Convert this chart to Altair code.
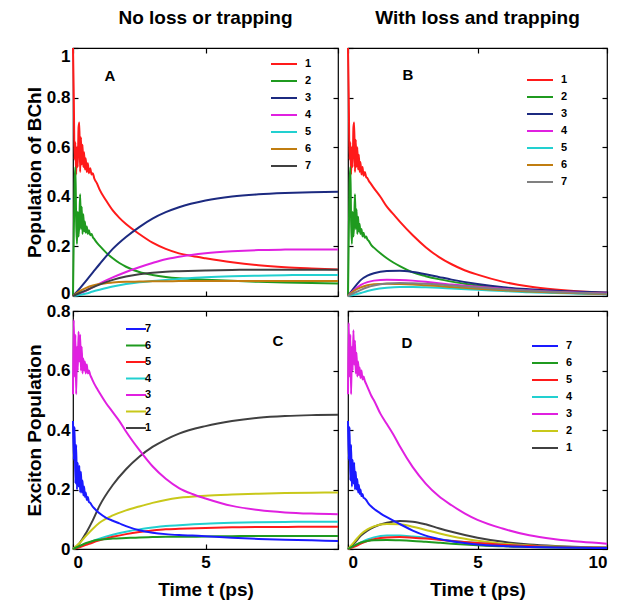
import altair as alt
import pandas as pd

FONT = "Liberation Sans"

# time grids (ps)
T_OSC = [0, 0.03, 0.06, 0.09, 0.12, 0.15, 0.18, 0.21, 0.24, 0.27,
         0.30, 0.33, 0.36, 0.39, 0.42, 0.45, 0.48, 0.52, 0.56, 0.60,
         0.65, 0.70, 0.75, 0.8, 0.9, 1.0, 1.25, 1.5, 1.75, 2.0,
         2.5, 3.0, 3.5, 4.0, 4.5, 5.0, 6.0, 7.0, 8.0, 9.0, 10.0]
T_S = [0, 0.25, 0.5, 0.75, 1, 1.5, 2, 2.5, 3, 3.5, 4, 5, 6, 7, 8, 9, 10]

SERIES = ["1", "2", "3", "4", "5", "6", "7"]
SERIES_REV = ["7", "6", "5", "4", "3", "2", "1"]

# Panel A: site populations, no loss or trapping
A1 = [1.0, 0.8, 0.55, 0.62, 0.49, 0.60, 0.52, 0.68, 0.70, 0.50,
      0.64, 0.53, 0.61, 0.52, 0.58, 0.51, 0.555, 0.50, 0.535, 0.495,
      0.515, 0.49, 0.495, 0.475, 0.455, 0.43, 0.385, 0.345, 0.315, 0.29,
      0.25, 0.215, 0.19, 0.172, 0.161, 0.152, 0.136, 0.124, 0.116, 0.111, 0.107]
A2 = [0, 0.25, 0.45, 0.52, 0.30, 0.21, 0.34, 0.24, 0.30, 0.41,
      0.27, 0.36, 0.25, 0.33, 0.26, 0.30, 0.255, 0.28, 0.25, 0.265,
      0.245, 0.25, 0.237, 0.23, 0.215, 0.203, 0.175, 0.152, 0.133, 0.118,
      0.097, 0.085, 0.077, 0.072, 0.069, 0.066, 0.061, 0.057, 0.054, 0.052, 0.05]
A3 = [0, 0.03, 0.062, 0.095, 0.128, 0.19, 0.238, 0.278, 0.312, 0.338, 0.358, 0.385, 0.401, 0.41, 0.415, 0.418, 0.42]
A4 = [0, 0.01, 0.022, 0.036, 0.05, 0.075, 0.097, 0.116, 0.133, 0.148, 0.158, 0.172, 0.18, 0.185, 0.187, 0.188, 0.188]
A5 = [0, 0.004, 0.01, 0.018, 0.025, 0.038, 0.048, 0.055, 0.06, 0.065, 0.069, 0.076, 0.08, 0.082, 0.084, 0.085, 0.085]
A6 = [0, 0.02, 0.033, 0.042, 0.048, 0.054, 0.057, 0.058, 0.059, 0.059, 0.06, 0.06, 0.06, 0.06, 0.06, 0.06, 0.06]
A7 = [0, 0.012, 0.023, 0.035, 0.046, 0.065, 0.079, 0.088, 0.094, 0.098, 0.1, 0.103, 0.105, 0.106, 0.106, 0.106, 0.106]

# Panel B: site populations, with loss and trapping
B1 = [1.0, 0.8, 0.55, 0.62, 0.49, 0.60, 0.52, 0.68, 0.70, 0.50,
      0.63, 0.52, 0.60, 0.51, 0.57, 0.50, 0.54, 0.49, 0.52, 0.485,
      0.50, 0.48, 0.475, 0.465, 0.45, 0.435, 0.40, 0.36, 0.33, 0.30,
      0.245, 0.197, 0.158, 0.128, 0.104, 0.086, 0.057, 0.038, 0.026, 0.018, 0.013]
B2 = [0, 0.25, 0.45, 0.52, 0.30, 0.21, 0.34, 0.24, 0.30, 0.41,
      0.27, 0.35, 0.25, 0.32, 0.26, 0.29, 0.25, 0.27, 0.24, 0.255,
      0.235, 0.24, 0.228, 0.222, 0.205, 0.195, 0.172, 0.152, 0.135, 0.12,
      0.095, 0.08, 0.068, 0.058, 0.049, 0.042, 0.03, 0.021, 0.015, 0.011, 0.008]
B3 = [0, 0.035, 0.065, 0.082, 0.092, 0.101, 0.102, 0.097, 0.088, 0.077, 0.066, 0.048, 0.035, 0.027, 0.021, 0.017, 0.014]
B4 = [0, 0.025, 0.045, 0.056, 0.062, 0.066, 0.065, 0.062, 0.057, 0.051, 0.046, 0.037, 0.029, 0.022, 0.017, 0.013, 0.01]
B5 = [0, 0.005, 0.012, 0.02, 0.026, 0.033, 0.036, 0.036, 0.035, 0.033, 0.03, 0.025, 0.02, 0.015, 0.012, 0.009, 0.007]
B6 = [0, 0.022, 0.035, 0.043, 0.047, 0.049, 0.048, 0.046, 0.043, 0.04, 0.036, 0.029, 0.023, 0.018, 0.014, 0.011, 0.008]
B7 = [0, 0.013, 0.025, 0.035, 0.042, 0.05, 0.052, 0.051, 0.049, 0.046, 0.042, 0.034, 0.027, 0.021, 0.016, 0.012, 0.009]

# Panel C: exciton populations, no loss or trapping
C1 = [0, 0.02, 0.055, 0.097, 0.145, 0.215, 0.268, 0.31, 0.343, 0.368, 0.388, 0.413, 0.43, 0.441, 0.447, 0.45, 0.451]
C2 = [0, 0.02, 0.045, 0.068, 0.088, 0.113, 0.13, 0.143, 0.155, 0.165, 0.172, 0.179, 0.183, 0.186, 0.188, 0.189, 0.19]
C3 = [0.52, 0.77, 0.58, 0.72, 0.52, 0.68, 0.60, 0.73, 0.63, 0.72,
      0.60, 0.68, 0.59, 0.64, 0.60, 0.63, 0.59, 0.62, 0.59, 0.60,
      0.585, 0.575, 0.565, 0.556, 0.54, 0.525, 0.49, 0.46, 0.43, 0.395,
      0.333, 0.278, 0.236, 0.205, 0.185, 0.17, 0.145, 0.131, 0.123, 0.119, 0.117]
C4 = [0, 0.008, 0.017, 0.027, 0.035, 0.048, 0.058, 0.066, 0.072, 0.077, 0.08, 0.085, 0.088, 0.09, 0.091, 0.092, 0.092]
C5 = [0, 0.006, 0.014, 0.022, 0.029, 0.041, 0.05, 0.057, 0.062, 0.066, 0.068, 0.071, 0.073, 0.074, 0.074, 0.075, 0.075]
C6 = [0, 0.01, 0.02, 0.027, 0.031, 0.035, 0.037, 0.039, 0.04, 0.041, 0.041, 0.042, 0.043, 0.044, 0.044, 0.044, 0.044]
C7 = [0.43, 0.30, 0.41, 0.22, 0.35, 0.20, 0.29, 0.21, 0.28, 0.19,
      0.26, 0.19, 0.23, 0.18, 0.21, 0.175, 0.19, 0.165, 0.175, 0.158,
      0.155, 0.148, 0.142, 0.137, 0.128, 0.12, 0.105, 0.095, 0.086, 0.077,
      0.063, 0.055, 0.05, 0.047, 0.045, 0.043, 0.038, 0.034, 0.031, 0.029, 0.027]

# Panel D: exciton populations, with loss and trapping
D1 = [0, 0.02, 0.045, 0.062, 0.074, 0.088, 0.094, 0.092, 0.083, 0.07, 0.058, 0.038, 0.024, 0.015, 0.01, 0.007, 0.005]
D2 = [0, 0.025, 0.05, 0.066, 0.076, 0.084, 0.083, 0.075, 0.064, 0.053, 0.043, 0.028, 0.018, 0.012, 0.008, 0.006, 0.004]
D3 = [0.52, 0.76, 0.58, 0.72, 0.52, 0.68, 0.60, 0.735, 0.62, 0.70,
      0.59, 0.66, 0.58, 0.63, 0.585, 0.61, 0.575, 0.60, 0.57, 0.58,
      0.565, 0.555, 0.545, 0.535, 0.515, 0.50, 0.455, 0.42, 0.385, 0.345,
      0.275, 0.22, 0.178, 0.147, 0.12, 0.098, 0.068, 0.046, 0.033, 0.024, 0.018]
D4 = [0, 0.01, 0.022, 0.032, 0.039, 0.045, 0.045, 0.042, 0.038, 0.033, 0.028, 0.02, 0.014, 0.01, 0.007, 0.005, 0.004]
D5 = [0, 0.008, 0.018, 0.027, 0.033, 0.039, 0.04, 0.038, 0.035, 0.031, 0.027, 0.02, 0.014, 0.01, 0.007, 0.005, 0.004]
D6 = [0, 0.012, 0.022, 0.027, 0.029, 0.03, 0.029, 0.027, 0.024, 0.021, 0.018, 0.013, 0.009, 0.007, 0.005, 0.004, 0.003]
D7 = [0.43, 0.30, 0.41, 0.23, 0.35, 0.21, 0.30, 0.22, 0.29, 0.20,
      0.26, 0.20, 0.235, 0.19, 0.215, 0.185, 0.20, 0.178, 0.185, 0.172,
      0.17, 0.165, 0.158, 0.152, 0.143, 0.135, 0.12, 0.107, 0.095, 0.084,
      0.062, 0.045, 0.034, 0.026, 0.02, 0.015, 0.01, 0.007, 0.005, 0.004, 0.003]

PANEL_LETTERS = ["A", "B", "C", "D"]
COL_TITLES = ["No loss or trapping", "With loss and trapping"]
X_TICKS = [0, 5, 10]
Y_TICKS_TOP = [0, 0.2, 0.4, 0.6, 0.8, 1]
Y_TICKS_BOT = [0, 0.2, 0.4, 0.6, 0.8]

COLORS_A = ["#ff1a1a", "#1f9a1f", "#1c2a80", "#e020e0", "#22d0d0", "#c07d10", "#404040"]
COLORS_B = ["#ff1a1a", "#1f9a1f", "#1c2a80", "#e020e0", "#22d0d0", "#c07d10", "#808080"]
COLORS_CD = ["#1a1aff", "#1f9a1f", "#ff1a1a", "#22d0d0", "#e020e0", "#c8c81a", "#404040"]


def frame(pairs):
    rows = []
    for name, times, vals in pairs:
        for ti, vi in zip(times, vals):
            rows.append({"t": ti, "v": vi, "s": name})
    return pd.DataFrame(rows)


dfA = frame([("1", T_OSC, A1), ("2", T_OSC, A2), ("3", T_S, A3), ("4", T_S, A4),
             ("5", T_S, A5), ("6", T_S, A6), ("7", T_S, A7)])
dfB = frame([("1", T_OSC, B1), ("2", T_OSC, B2), ("3", T_S, B3), ("4", T_S, B4),
             ("5", T_S, B5), ("6", T_S, B6), ("7", T_S, B7)])
dfC = frame([("1", T_S, C1), ("2", T_S, C2), ("3", T_OSC, C3), ("4", T_S, C4),
             ("5", T_S, C5), ("6", T_S, C6), ("7", T_OSC, C7)])
dfD = frame([("1", T_S, D1), ("2", T_S, D2), ("3", T_OSC, D3), ("4", T_S, D4),
             ("5", T_S, D5), ("6", T_S, D6), ("7", T_OSC, D7)])


def panel(df, order, colors, ymax, yvals, w, h, show_y, show_x, hide10,
          ytitle, xtitle, letter, letter_xy, leg_xy, sym_size, lab_off, row_pad,
          title=None, zero_shift=0):
    xs = alt.Scale(domain=[0, 10], nice=False, zero=False)
    ys = alt.Scale(domain=[0, ymax], nice=False, zero=False)
    base = alt.Chart(df)

    xkw = dict(orient="bottom", values=X_TICKS, format="d", labels=show_x,
               tickSize=0, domain=False, grid=False, labelPadding=5,
               titlePadding=10, title=xtitle)
    if hide10:
        xkw["labelExpr"] = "datum.value == 10 ? '' : datum.label"
    ykw = dict(orient="left", values=yvals, format="~g", labels=show_y,
               tickSize=0, domain=False, grid=False, labelPadding=3,
               titlePadding=2, title=ytitle,
               labelBaseline={"condition": {"test": "datum.value == 1", "value": "top"},
                              "value": "middle"},
               labelOffset={"condition": {"test": "datum.value == 0", "value": zero_shift},
                            "value": 0})

    lines = base.mark_line(strokeWidth=2, interpolate="monotone").encode(
        x=alt.X("t:Q", scale=xs, axis=alt.Axis(**xkw)),
        y=alt.Y("v:Q", scale=ys, axis=alt.Axis(**ykw)),
        color=alt.Color(
            "s:N",
            scale=alt.Scale(domain=order, range=colors),
            legend=alt.Legend(
                orient="none", legendX=leg_xy[0], legendY=leg_xy[1], title=None,
                symbolType="M-2,0L2,0", symbolSize=sym_size, symbolStrokeWidth=2,
                labelOffset=lab_off, rowPadding=row_pad, padding=0,
                labelFontSize=11, labelFontWeight="bold", labelFont=FONT,
                labelColor="black",
            ),
        ),
    )

    def tick_layer(xo, yo):
        return base.mark_line(strokeOpacity=0).encode(
            x=alt.X("t:Q", scale=xs, axis=alt.Axis(
                orient=xo, values=X_TICKS, labels=False, domain=False, grid=False,
                tickSize=5, offset=-5, title=None, tickColor="black")),
            y=alt.Y("v:Q", scale=ys, axis=alt.Axis(
                orient=yo, values=yvals, labels=False, domain=False, grid=False,
                tickSize=5, offset=-5, title=None, tickColor="black")),
            detail="s:N",
        )

    lab = alt.Chart(pd.DataFrame({"lab": [letter]})).mark_text(
        font=FONT, fontSize=15, fontWeight="bold", color="black",
        align="center", baseline="middle",
    ).encode(text="lab:N", x=alt.value(letter_xy[0]), y=alt.value(letter_xy[1]))

    layer = alt.layer(lines, tick_layer("top", "right"), tick_layer("bottom", "left"), lab)
    layer = layer.resolve_axis(x="independent", y="independent").properties(width=w, height=h)
    if title is not None:
        layer = layer.properties(title=alt.Title(title, frame="group", anchor="middle", offset=16))
    return layer


pA = panel(dfA, SERIES, COLORS_A, 1.0, Y_TICKS_TOP, 265, 248, True, False, False,
           "Population of BChl", None, PANEL_LETTERS[0], (37, 28), (203.5, 8.5),
           169, 13.5, 4, COL_TITLES[0], zero_shift=-3)
pB = panel(dfB, SERIES, COLORS_B, 1.0, Y_TICKS_TOP, 259, 248, False, False, False,
           None, None, PANEL_LETTERS[1], (60, 27), (184.5, 24.5),
           169, 13.5, 4, COL_TITLES[1])
pC = panel(dfC, SERIES_REV, COLORS_CD, 0.8, Y_TICKS_BOT, 265, 238, True, True, True,
           "Exciton Population", "Time t (ps)", PANEL_LETTERS[2], (205, 30), (57, 12),
           100, 3, 5.5)
pD = panel(dfD, SERIES_REV, COLORS_CD, 0.8, Y_TICKS_BOT, 259, 238, False, True, False,
           None, "Time t (ps)", PANEL_LETTERS[3], (59, 32), (189.5, 27.5),
           169, 13.5, 4)

chart = alt.concat(
    pA, pB, pC, pD, columns=2, spacing={"row": 15, "column": 10}, bounds="flush"
).resolve_scale(color="independent").properties(
    padding={"left": 16, "top": 0, "right": 5, "bottom": 0},
    background="white",
).configure_view(
    stroke="black", strokeWidth=1.2
).configure_axis(
    labelFont=FONT, titleFont=FONT, labelFontWeight="bold", titleFontWeight="bold",
    labelFontSize=17, titleFontSize=19, labelColor="black", titleColor="black",
    tickColor="black", tickWidth=1.2,
).configure_title(
    font=FONT, fontSize=19, fontWeight="bold", color="black"
)

chart.save("out.html", embed_options={"renderer": "svg", "actions": False})
